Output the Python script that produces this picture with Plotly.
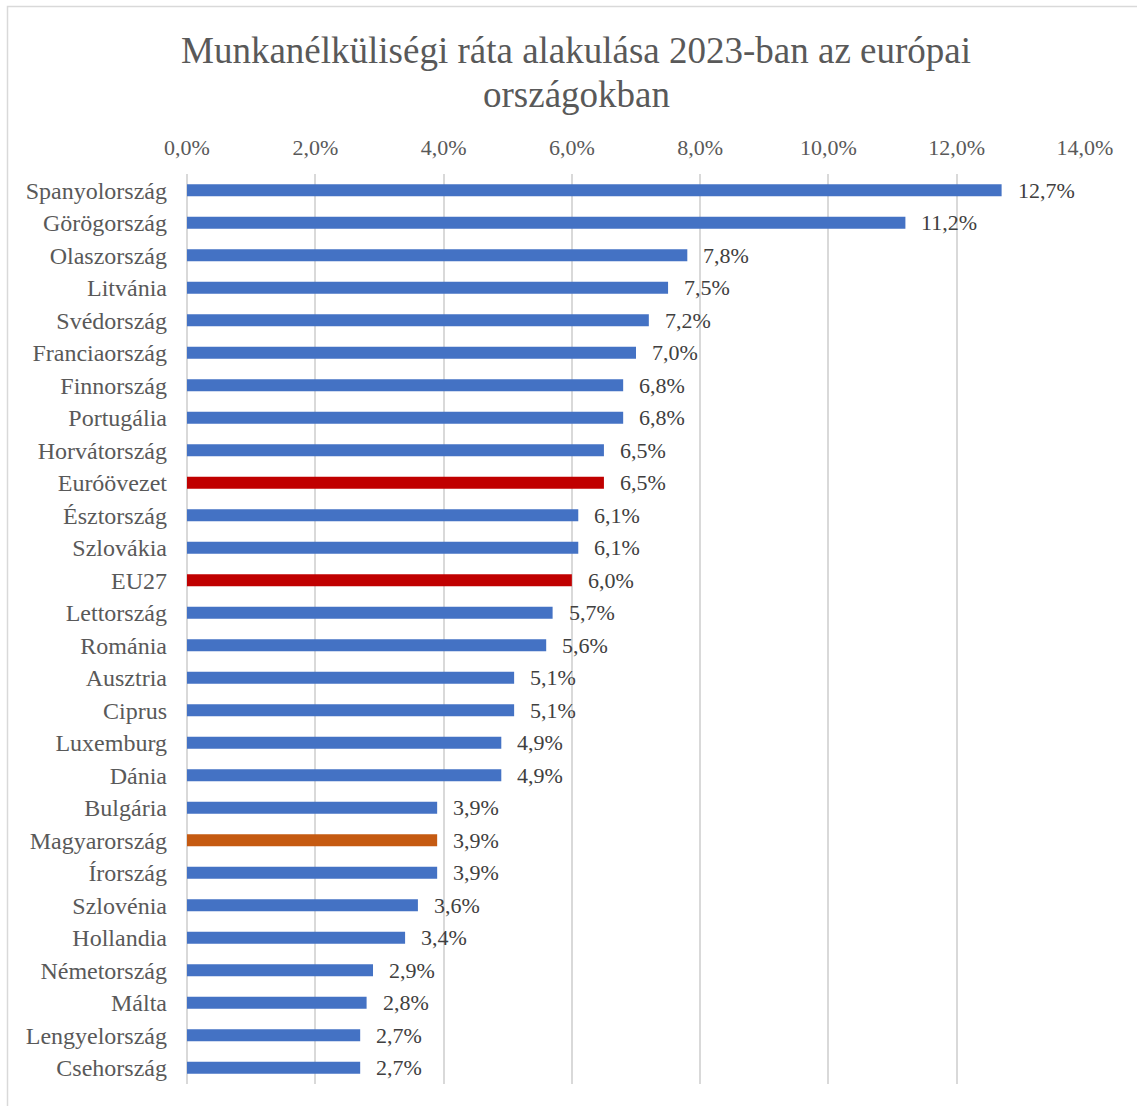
import plotly.graph_objects as go

countries = ["Spanyolország", "Görögország", "Olaszország", "Litvánia", "Svédország",
             "Franciaország", "Finnország", "Portugália", "Horvátország", "Euróövezet",
             "Észtország", "Szlovákia", "EU27", "Lettország", "Románia", "Ausztria",
             "Ciprus", "Luxemburg", "Dánia", "Bulgária", "Magyarország", "Írország",
             "Szlovénia", "Hollandia", "Németország", "Málta", "Lengyelország", "Csehország"]
rates = [12.7, 11.2, 7.8, 7.5, 7.2, 7.0, 6.8, 6.8, 6.5, 6.5, 6.1, 6.1, 6.0, 5.7, 5.6,
         5.1, 5.1, 4.9, 4.9, 3.9, 3.9, 3.9, 3.6, 3.4, 2.9, 2.8, 2.7, 2.7]
tick_vals = [0, 2, 4, 6, 8, 10, 12, 14]
title_lines = ["Munkanélküliségi ráta alakulása 2023-ban az európai", "országokban"]

BLUE, RED, ORANGE = "#4472C4", "#C00000", "#C55A11"
highlight = {"Euróövezet": RED, "EU27": RED, "Magyarország": ORANGE}
colors = [highlight.get(c, BLUE) for c in countries]

FONT = "Liberation Serif, Times New Roman, serif"

fig = go.Figure(go.Bar(
    x=[r / 100 for r in rates], y=countries, orientation="h",
    marker=dict(color=colors, line=dict(width=0)), width=0.37,
    hoverinfo="skip",
))

for c, r in zip(countries, rates):
    fig.add_annotation(x=r / 100, y=c, xref="x", yref="y",
                       text=f"{r:.1f}%".replace(".", ","), showarrow=False,
                       xanchor="left", xshift=14,
                       font=dict(family=FONT, size=22, color="#404040"))

W, H = 1137, 1106
L, R, T, B = 187, 52, 174, 22
pw, ph = W - L - R, H - T - B

def px_x(v):
    return (v - L) / pw

def px_y(v):
    return (H - B - v) / ph

# two-line title, each line placed separately
for line, yc in zip(title_lines, [50, 94]):
    fig.add_annotation(text=line, xref="paper", yref="paper",
                       x=px_x(576), y=px_y(yc), xanchor="center", yanchor="middle",
                       showarrow=False,
                       font=dict(family=FONT, size=37, color="#595959"))

fig.add_shape(type="rect", xref="paper", yref="paper",
              x0=px_x(7.5), x1=px_x(W + 10), y0=px_y(H + 10), y1=px_y(6.5),
              line=dict(color="#D9D9D9", width=1.5), fillcolor="rgba(0,0,0,0)", layer="below")

fig.update_layout(
    width=W, height=H,
    margin=dict(l=L, r=R, t=T, b=B),
    paper_bgcolor="white", plot_bgcolor="white",
    separators=", ",
    showlegend=False,
    xaxis=dict(side="top", range=[0, 0.14], tickvals=[v / 100 for v in tick_vals],
               tickformat=".1%", showgrid=True, gridcolor="#D9D9D9", gridwidth=1.5,
               zeroline=True, zerolinecolor="#D9D9D9", zerolinewidth=1.5,
               showline=False, ticks="", ticklabelstandoff=14,
               tickfont=dict(family=FONT, size=22, color="#595959")),
    yaxis=dict(categoryorder="array", categoryarray=countries, autorange="reversed",
               showgrid=False, zeroline=False, showline=False, ticks="",
               ticklabelstandoff=19,
               tickfont=dict(family=FONT, size=24, color="#595959")),
)

fig.write_html("out.html")
